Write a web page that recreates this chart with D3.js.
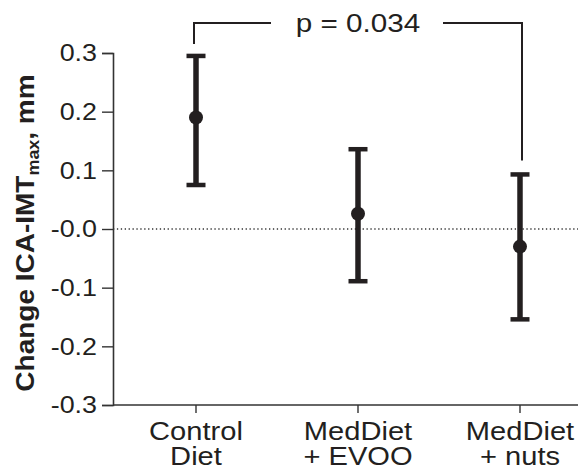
<!DOCTYPE html>
<html><head><meta charset="utf-8">
<script src="https://cdn.jsdelivr.net/npm/d3@7"></script>
<style>body{margin:0;background:#fff}svg{display:block;font-family:"Liberation Sans",Arial,sans-serif}</style>
</head><body><svg id="c" width="578" height="471"></svg>
<script>
const categories = [["Control","Diet"],["MedDiet","+ EVOO"],["MedDiet","+ nuts"]];
const means = [0.19, 0.026, -0.03];
const upper = [0.295, 0.136, 0.093];
const lower = [0.075, -0.089, -0.154];
const yTicks = [0.3, 0.2, 0.1, 0.0, -0.1, -0.2, -0.3];
const pLabel = "p = 0.034";

const svg = d3.select("#c");
const ink = "#231f20";
const SX = 1.12; // horizontal glyph stretch
const keys = categories.map((c,i)=>i);
const x = d3.scalePoint().domain(keys).range([196, 520]);
const y = d3.scaleLinear().domain([-0.3, 0.3]).range([405, 53]);
const xLeft = 113, xRight = 578;

// zero dotted line
svg.append("line").attr("x1", xLeft).attr("x2", xRight).attr("y1", y(0)).attr("y2", y(0))
  .attr("stroke", "#333").attr("stroke-width", 1.3).attr("stroke-dasharray", "1.3,2.6");

// y axis
const yAxis = d3.axisLeft(y).tickValues(yTicks).tickSize(11).tickPadding(5)
  .tickFormat(d => (d <= 0 ? "-" : "") + Math.abs(d).toFixed(1));
const gy = svg.append("g").attr("transform", `translate(${xLeft},0)`).call(yAxis);
gy.select(".domain").attr("stroke", "#333").attr("stroke-width", 1.6);
gy.selectAll(".tick line").attr("stroke", "#333").attr("stroke-width", 1.4);
gy.selectAll(".tick text").attr("font-size", 24).attr("fill", ink)
  .attr("font-family", "Liberation Sans, Arial, sans-serif")
  .attr("x", -16 / SX).attr("transform", `scale(${SX},1)`);

// x axis
svg.append("line").attr("x1", xLeft).attr("x2", xRight).attr("y1", y(-0.3)).attr("y2", y(-0.3))
  .attr("stroke", "#333").attr("stroke-width", 1.6);
keys.forEach(i => {
  svg.append("line").attr("x1", x(i)).attr("x2", x(i)).attr("y1", y(-0.3)).attr("y2", y(-0.3)+8)
    .attr("stroke", "#333").attr("stroke-width", 1.4);
  const t = svg.append("text").attr("text-anchor", "middle").attr("font-size", 26).attr("fill", ink)
    .attr("transform", `translate(${x(i)},0) scale(${SX},1)`);
  categories[i].forEach((line, j) => {
    t.append("tspan").attr("x", 0).attr("y", 440 + j*25).text(line);
  });
});

// error bars
keys.forEach(i => {
  svg.append("line").attr("x1", x(i)).attr("x2", x(i)).attr("y1", y(upper[i])).attr("y2", y(lower[i]))
    .attr("stroke", ink).attr("stroke-width", 5.5);
  [upper[i], lower[i]].forEach(v => {
    svg.append("line").attr("x1", x(i)-9.5).attr("x2", x(i)+9.5).attr("y1", y(v)).attr("y2", y(v))
      .attr("stroke", ink).attr("stroke-width", 4.5);
  });
  svg.append("circle").attr("cx", x(i)).attr("cy", y(means[i])).attr("r", 7).attr("fill", ink);
});

// significance bracket
const by = 23;
svg.append("path").attr("d", `M${x(0)-2},${y(upper[0])-12}V${by}H271`)
  .attr("fill", "none").attr("stroke", ink).attr("stroke-width", 2);
svg.append("path").attr("d", `M443,${by}H${x(2)+2}V${y(upper[2])-14}`)
  .attr("fill", "none").attr("stroke", ink).attr("stroke-width", 2);
svg.append("text").attr("transform", `translate(${x(1)},32) scale(${SX},1)`).attr("text-anchor", "middle")
  .attr("font-size", 26.5).attr("fill", ink).text(pLabel);

// y label
const yl = svg.append("text").attr("transform", `translate(34,233) rotate(-90) scale(${SX},1)`)
  .attr("text-anchor", "middle").attr("font-size", 25).attr("font-weight", "bold").attr("fill", ink);
yl.append("tspan").text("Change ICA-IMT");
yl.append("tspan").attr("font-size", 16).attr("dy", 5).text("max");
yl.append("tspan").attr("dy", -5).text(", mm");
</script></body></html>
